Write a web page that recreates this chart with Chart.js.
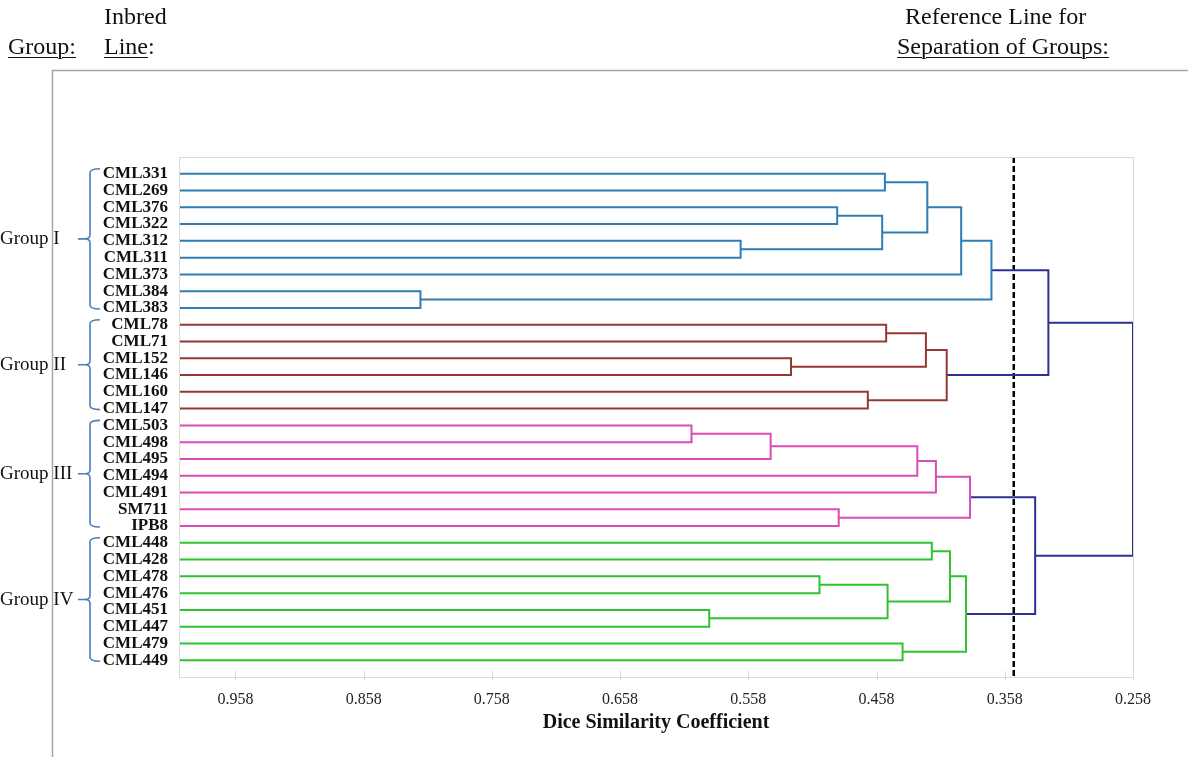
<!DOCTYPE html>
<html>
<head>
<meta charset="utf-8">
<script src="https://cdn.jsdelivr.net/npm/chart.js@4.4.1/dist/chart.umd.min.js"></script>
<style>
  body { margin: 0; background: #fff; }
  #wrap { position: relative; width: 1188px; height: 757px; }
  .hd { position: absolute; font-family: "Liberation Serif", "Times New Roman", serif; font-size: 24px; line-height: 26px; color: #111; white-space: nowrap; }
  .u { text-decoration: underline; text-underline-offset: 3px; text-decoration-thickness: 1px; }
</style>
</head>
<body>
<div id="wrap">
  <canvas id="chart" width="1188" height="757"></canvas>
  <div class="hd" style="left:104px; top:3px;">Inbred</div>
  <div class="hd u" style="left:8px; top:33px;">Group:</div>
  <div class="hd" style="left:104px; top:33px;"><span class="u">Line</span>:</div>
  <div class="hd" style="left:905px; top:3px;">Reference Line for</div>
  <div class="hd u" style="left:897px; top:33px;">Separation of Groups:</div>
</div>
<script>
// leaves, top to bottom
const leaves = [
  "CML331", "CML269", "CML376", "CML322", "CML312", "CML311", "CML373", "CML384", "CML383",
  "CML78", "CML71", "CML152", "CML146", "CML160", "CML147",
  "CML503", "CML498", "CML495", "CML494", "CML491", "SM711", "IPB8",
  "CML448", "CML428", "CML478", "CML476", "CML451", "CML447", "CML479", "CML449",
];
const groupNames = ["Group I", "Group II", "Group III", "Group IV"];
const groupSizes = [9, 6, 7, 8];
const groupColors = ["#2f7db6", "#953735", "#d94cb6", "#2fc42f"];
const joinColor = "#2e3092";

// merges: [child a, child b, dice similarity]; ids < 30 are leaves, id 30+k is merge k
const merges = [
  [0, 1, 0.4515], [2, 3, 0.4887], [4, 5, 0.564], [31, 32, 0.4536], [30, 33, 0.4184],
  [34, 6, 0.392], [7, 8, 0.8137], [35, 36, 0.3684],
  [9, 10, 0.4505], [11, 12, 0.5247], [38, 39, 0.4195], [13, 14, 0.4648], [40, 41, 0.4033],
  [15, 16, 0.6023], [43, 17, 0.5406], [44, 18, 0.4262], [45, 19, 0.4117], [20, 21, 0.4875],
  [46, 47, 0.3851],
  [22, 23, 0.4149], [24, 25, 0.5025], [26, 27, 0.5885], [50, 51, 0.4494], [49, 52, 0.4007],
  [28, 29, 0.4377], [53, 54, 0.3882],
  [37, 42, 0.324], [48, 55, 0.3343], [56, 57, 0.258],
];

const xTicks = [0.958, 0.858, 0.758, 0.658, 0.558, 0.458, 0.358, 0.258];
const xMin = 0.258;
const xMax = 1.002;
const refLine = 0.351;

const serif = '"Liberation Serif", "Times New Roman", serif';

const leafGroup = [];
groupSizes.forEach((n, g) => {
  for (let i = 0; i < n; i++) leafGroup.push(g);
});

const nodeY = [], nodeH = [], nodeG = [];
leaves.forEach((name, i) => {
  nodeY[i] = i;
  nodeH[i] = xMax;
  nodeG[i] = leafGroup[i];
});

const datasets = [];
merges.forEach(([a, b, h], k) => {
  const id = leaves.length + k;
  nodeY[id] = (nodeY[a] + nodeY[b]) / 2;
  nodeH[id] = h;
  nodeG[id] = nodeG[a] === nodeG[b] ? nodeG[a] : -1;
  datasets.push({
    data: [
      { x: nodeH[a], y: nodeY[a] },
      { x: h, y: nodeY[a] },
      { x: h, y: nodeY[b] },
      { x: nodeH[b], y: nodeY[b] },
    ],
    borderColor: nodeG[id] >= 0 ? groupColors[nodeG[id]] : joinColor,
    borderWidth: 2,
  });
});

datasets.push({
  data: [{ x: refLine, y: -1 }, { x: refLine, y: leaves.length }],
  borderColor: "#000",
  borderWidth: 2.5,
  borderDash: [6, 3],
});

// frame, plot border, tick marks, group braces
const extras = {
  id: "extras",
  beforeDraw: (chart) => {
    const c = chart.ctx;
    c.save();
    c.strokeStyle = "#a6a6a6";
    c.lineWidth = 1.5;
    c.beginPath();
    c.moveTo(1188, 70.5);
    c.lineTo(52.5, 70.5);
    c.lineTo(52.5, 757);
    c.stroke();
    c.restore();
  },
  afterDraw: (chart) => {
    const c = chart.ctx;
    const a = chart.chartArea;
    const xs = chart.scales.x, ys = chart.scales.y;
    c.save();
    c.strokeStyle = "#d9d9d9";
    c.lineWidth = 1;
    c.strokeRect(a.left + 0.5, a.top + 0.5, a.right - a.left, a.bottom - a.top);
    xTicks.forEach((v) => {
      const px = Math.round(xs.getPixelForValue(v)) + 0.5;
      c.beginPath();
      c.moveTo(px, a.bottom - 6);
      c.lineTo(px, a.bottom + 3);
      c.stroke();
    });

    let start = 0;
    c.strokeStyle = "#4a7ebb";
    c.lineWidth = 1.6;
    c.font = "19px " + serif;
    c.fillStyle = "#111";
    c.textBaseline = "middle";
    groupSizes.forEach((n, g) => {
      const top = ys.getPixelForValue(start) - 5;
      const bot = ys.getPixelForValue(start + n - 1) + 1;
      const mid = (top + bot) / 2;
      const x = 90, r = 4;
      c.beginPath();
      c.moveTo(x + 10, top);
      c.quadraticCurveTo(x, top, x, top + r);
      c.lineTo(x, mid - r);
      c.quadraticCurveTo(x, mid, x - 5, mid);
      c.lineTo(x - 12, mid);
      c.moveTo(x - 5, mid);
      c.quadraticCurveTo(x, mid, x, mid + r);
      c.lineTo(x, bot - r);
      c.quadraticCurveTo(x, bot, x + 10, bot);
      c.stroke();
      c.fillText(groupNames[g], 0, mid);
      start += n;
    });
    c.restore();
  },
};

const ctx = document.getElementById("chart");
const chart = new Chart(ctx, {
  type: "scatter",
  data: { datasets: datasets },
  options: {
    responsive: false,
    animation: false,
    showLine: true,
    clip: false,
    elements: { point: { radius: 0 }, line: { tension: 0 } },
    layout: { padding: { left: 0, right: 55, top: 157, bottom: 0 } },
    plugins: { legend: { display: false }, tooltip: { enabled: false } },
    scales: {
      x: {
        type: "linear",
        reverse: true,
        min: xMin,
        max: xMax,
        afterBuildTicks: (s) => {
          s.ticks = xTicks.map((v) => ({ value: v }));
        },
        afterFit: (s) => {
          s.height = 80;
        },
        ticks: {
          autoSkip: false,
          maxRotation: 0,
          padding: 5,
          color: "#222",
          font: { family: serif, size: 16 },
          callback: (v) => v.toFixed(3),
        },
        grid: { display: false },
        border: { display: false },
        title: {
          display: true,
          text: "Dice Similarity Coefficient",
          color: "#111",
          font: { family: serif, size: 20, weight: "bold" },
          padding: { top: 0, bottom: 22 },
        },
      },
      y: {
        type: "linear",
        reverse: true,
        min: -1,
        max: leaves.length,
        afterBuildTicks: (s) => {
          s.ticks = leaves.map((n, i) => ({ value: i }));
        },
        afterFit: (s) => {
          s.width = 179;
        },
        ticks: {
          autoSkip: false,
          padding: 3,
          color: "#111",
          font: { family: serif, size: 17, weight: "bold" },
          callback: (v) => leaves[v],
        },
        grid: { display: false },
        border: { display: false },
      },
    },
  },
  plugins: [extras],
});
</script>
</body>
</html>
